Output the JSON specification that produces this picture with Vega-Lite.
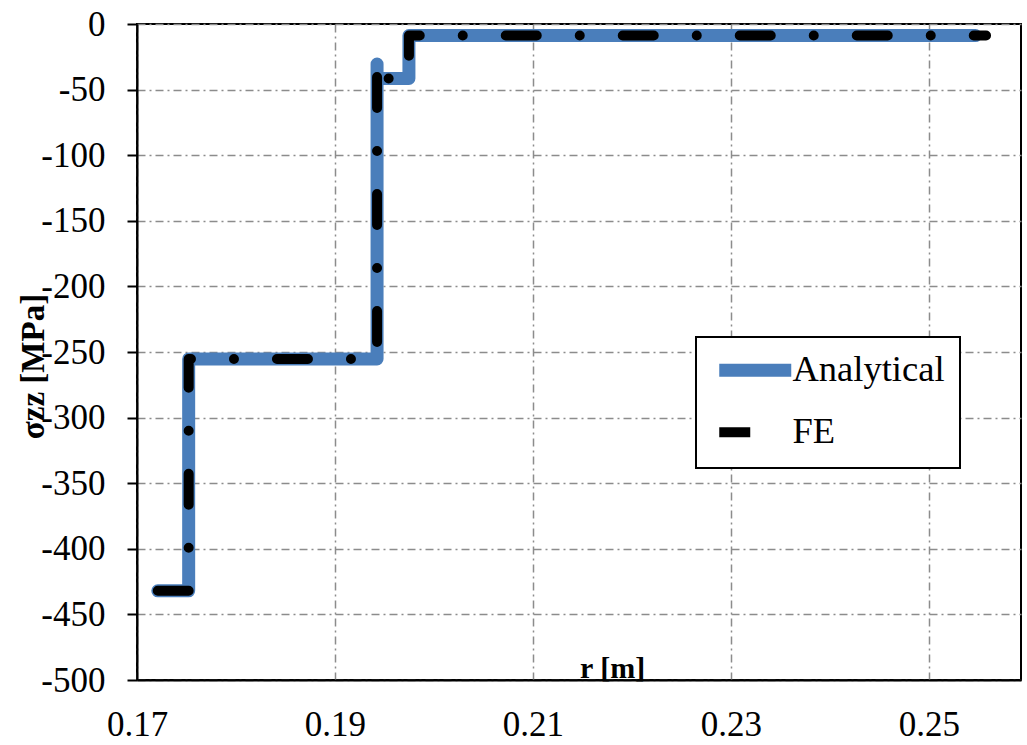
{
  "$schema": "https://vega.github.io/schema/vega-lite/v6.json",
  "width": 884,
  "height": 656,
  "autosize": {"type": "none"},
  "padding": {"left": 137, "top": 24, "right": 6, "bottom": 65},
  "background": "white",
  "config": {
    "font": "Liberation Serif",
    "view": {"stroke": "black", "strokeWidth": 2},
    "axis": {
      "labelFont": "Liberation Serif",
      "labelFontSize": 35,
      "labelColor": "black",
      "titleFont": "Liberation Serif",
      "titleColor": "black",
      "titleFontWeight": "bold",
      "domainColor": "black",
      "domainWidth": 2,
      "tickColor": "black",
      "tickWidth": 2,
      "gridColor": "#8c8c8c",
      "gridWidth": 1.5,
      "gridDash": [8, 4, 2, 4],
      "labelFlush": false,
      "labelOverlap": false
    },
    "legend": {"strokeWidth": 2}
  },
  "data": {
    "values": [
      {"series": "Analytical", "i": 0, "r": 0.1721, "s": -432},
      {"series": "Analytical", "i": 1, "r": 0.17522, "s": -432},
      {"series": "Analytical", "i": 2, "r": 0.17522, "s": -255.3},
      {"series": "Analytical", "i": 3, "r": 0.19425, "s": -255.3},
      {"series": "Analytical", "i": 4, "r": 0.19425, "s": -30.5},
      {"series": "Analytical", "i": 5, "r": 0.19425, "s": -41.5},
      {"series": "Analytical", "i": 6, "r": 0.19747, "s": -41.5},
      {"series": "Analytical", "i": 7, "r": 0.19747, "s": -8.8},
      {"series": "Analytical", "i": 8, "r": 0.2547, "s": -8.8},
      {"series": "FE", "i": 0, "r": 0.1721, "s": -432},
      {"series": "FE", "i": 1, "r": 0.17522, "s": -432},
      {"series": "FE", "i": 2, "r": 0.17522, "s": -255.3},
      {"series": "FE", "i": 3, "r": 0.19425, "s": -255.3},
      {"series": "FE", "i": 4, "r": 0.19425, "s": -29},
      {"series": "FE", "i": 5, "r": 0.19425, "s": -41.5},
      {"series": "FE", "i": 6, "r": 0.19747, "s": -41.5},
      {"series": "FE", "i": 7, "r": 0.19747, "s": -8.8},
      {"series": "FE", "i": 8, "r": 0.25577, "s": -8.8}
    ]
  },
  "mark": {"type": "line", "strokeCap": "round", "strokeJoin": "round"},
  "encoding": {
    "x": {
      "field": "r",
      "type": "quantitative",
      "scale": {"domain": [0.17, 0.2593], "nice": false, "zero": false},
      "axis": {
        "values": [0.17, 0.19, 0.21, 0.23, 0.25],
        "format": ".2f",
        "labelFont": "Liberation Serif",
        "ticks": false,
        "tickSize": 0,
        "labelPadding": 55,
        "labelBaseline": "alphabetic",
        "title": "r [m]",
        "titleFontSize": 30,
        "titleX": 475,
        "titleY": -3,
        "titleAlign": "center",
        "titleBaseline": "alphabetic"
      }
    },
    "y": {
      "field": "s",
      "type": "quantitative",
      "scale": {"domain": [-500, 0], "nice": false},
      "axis": {
        "values": [-500, -450, -400, -350, -300, -250, -200, -150, -100, -50, 0],
        "labelFont": "Liberation Serif",
        "labelExpr": "replace(datum.label, '−', '-')",
        "tickSize": 10,
        "labelPadding": 22,
        "title": "σzz [MPa]",
        "titleFontSize": 33,
        "titleX": -94,
        "titleY": 342,
        "titleAngle": -90,
        "titleAlign": "center",
        "titleBaseline": "alphabetic"
      }
    },
    "order": {"field": "i", "type": "quantitative"},
    "color": {
      "field": "series",
      "type": "nominal",
      "scale": {"domain": ["Analytical", "FE"], "range": ["#4a7ebb", "black"]},
      "legend": {
        "title": null,
        "orient": "none",
        "legendX": 559,
        "legendY": 313,
        "symbolType": "M-1,0H6.2",
        "symbolSize": 400,
        "labelFont": "Liberation Serif",
        "labelFontSize": 36.5,
        "labelColor": "black",
        "labelOffset": 45,
        "padding": 15,
        "rowPadding": 15,
        "fillColor": "white",
        "strokeColor": "black",
        "symbolOpacity": 1
      }
    },
    "strokeWidth": {
      "field": "series",
      "type": "nominal",
      "scale": {"domain": ["Analytical", "FE"], "range": [13, 10]}
    },
    "strokeDash": {
      "field": "series",
      "type": "nominal",
      "scale": {"domain": ["Analytical", "FE"], "range": [[1, 0], [31, 43, 0, 43]]}
    }
  }
}
